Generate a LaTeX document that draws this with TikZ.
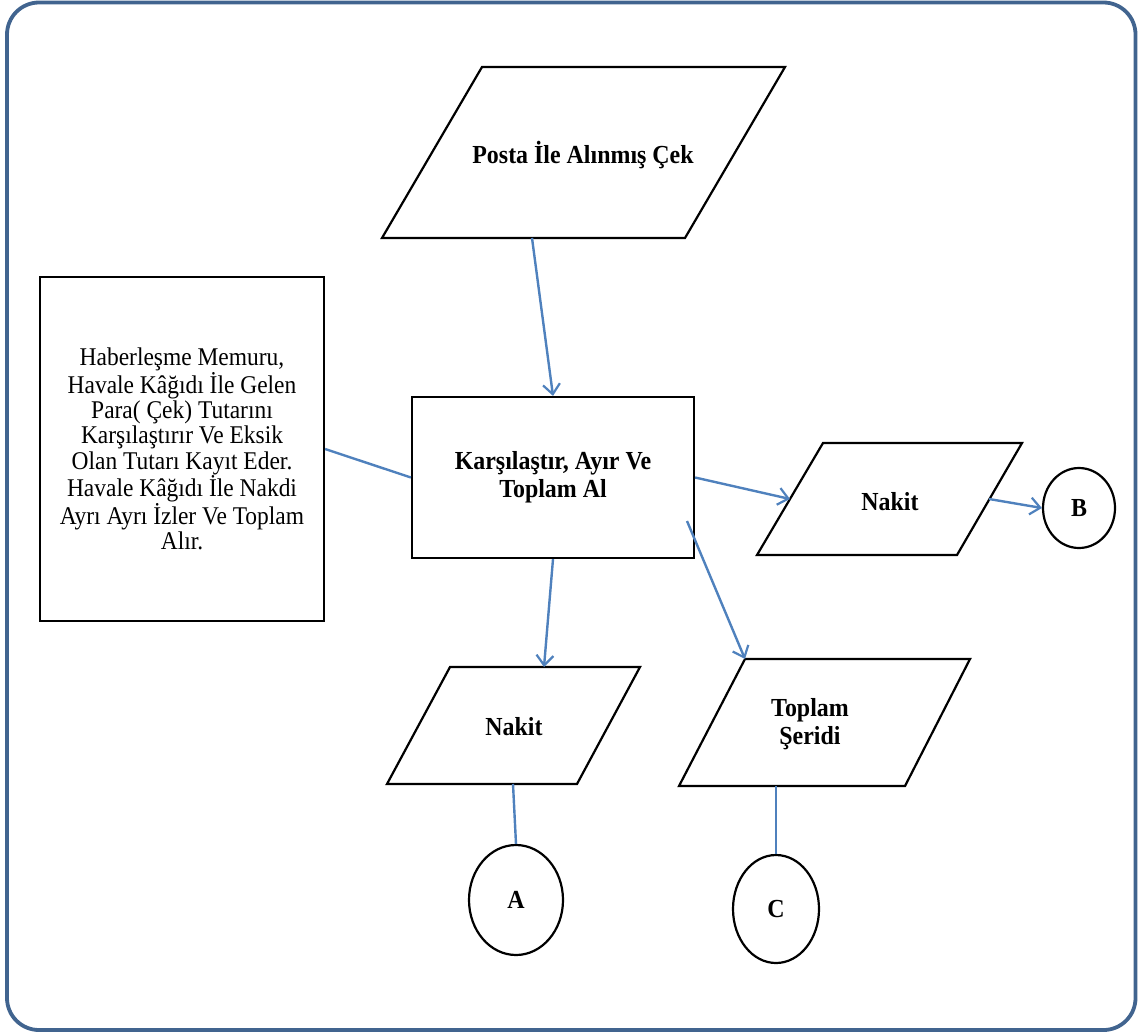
\documentclass[tikz,border=0pt]{standalone}
\usepackage{fontspec}
\setmainfont{Liberation Serif}
\newfontfamily\reffont[FakeStretch=0.92]{Liberation Serif}
\usetikzlibrary{arrows.meta,calc,shapes.geometric}
\definecolor{frameblue}{HTML}{41648F}
\definecolor{linkblue}{HTML}{4F81BD}
\begin{document}
\begin{tikzpicture}[x=1pt,y=-1pt,
  lbl/.style={font=\reffont\bfseries\fontsize{26}{28}\selectfont,align=center,inner sep=0pt},
  para/.style={draw=black,line width=2.2pt,line join=miter},
  conn/.style={draw=linkblue,line width=2.4pt},
  arr/.style={conn,-{Straight Barb[length=10pt,width=17pt,line width=2.2pt]}},
  conncircle/.style={draw=black,line width=2.2pt,ellipse,inner sep=0pt,font=\reffont\bfseries\fontsize{26}{28}\selectfont}
]
\useasboundingbox (0,0) rectangle (1142,1033);
\draw[frameblue,line width=3.8pt,rounded corners=32pt] (7,2.5) rectangle (1135.5,1030);

% Posta parallelogram
\draw[para] (482,67) -- (785,67) -- (685,238) -- (382,238) -- cycle;
\node[lbl] (posta) at (583,155) {Posta İle Alınmış Çek};
\coordinate (postab) at (532,238);

% main rectangle
\node[draw=black,line width=2.2pt,minimum width=282pt,minimum height=161pt,inner sep=0pt,
  font=\reffont\bfseries\fontsize{26}{28}\selectfont,align=center] (main) at (553,477.5)
  {Karşılaştır, Ayır Ve\\Toplam Al};
\coordinate (mainr) at (687,521);

% left box
\node[draw=black,line width=2.2pt,minimum width=284pt,minimum height=344pt,inner sep=0pt,
  font=\reffont\fontsize{25.5}{25.3}\selectfont,align=center] (left) at (182,449)
  {Haberleşme Memuru,\\Havale Kâğıdı İle Gelen\\Para( Çek) Tutarını\\Karşılaştırır Ve Eksik\\Olan Tutarı Kayıt Eder.\\Havale Kâğıdı İle Nakdi\\Ayrı Ayrı İzler Ve Toplam\\Alır.};

% Nakit right
\draw[para] (823,443) -- (1022,443) -- (957,555) -- (757,555) -- cycle;
\node[lbl] (nakitb) at (890,502) {Nakit};
\coordinate (nakitbl) at (790,499);
\coordinate (nakitbr) at (989,499);
\node[conncircle,minimum width=72pt,minimum height=80pt] (B) at (1079,508) {B};

% Nakit bottom
\draw[para] (450,667) -- (640,667) -- (577,784) -- (387,784) -- cycle;
\node[lbl] (nakita) at (514,727) {Nakit};
\coordinate (nakitat) at (544,667);
\coordinate (nakitab) at (513,784);
\node[conncircle,minimum width=94pt,minimum height=110pt] (A) at (516,900) {A};

% Toplam Seridi
\draw[para] (745,659) -- (970,659) -- (905,786) -- (679,786) -- cycle;
\node[lbl] (toplam) at (810,724) {Toplam\\Şeridi};
\coordinate (toplamt) at (745,659);
\coordinate (toplamb) at (776,786);
\node[conncircle,minimum width=86pt,minimum height=108pt] (C) at (776,909) {C};

% connectors
\draw[arr] (postab) -- (main.north);
\draw[conn] (left.east) -- (main.west);
\draw[arr] (main.east) -- (nakitbl);
\draw[arr] (nakitbr) -- (B.west);
\draw[arr] (main.south) -- (nakitat);
\draw[arr] (mainr) -- (toplamt);
\draw[conn] (nakitab) -- (A.north);
\draw[conn] (toplamb) -- (C.north);
\end{tikzpicture}
\end{document}
